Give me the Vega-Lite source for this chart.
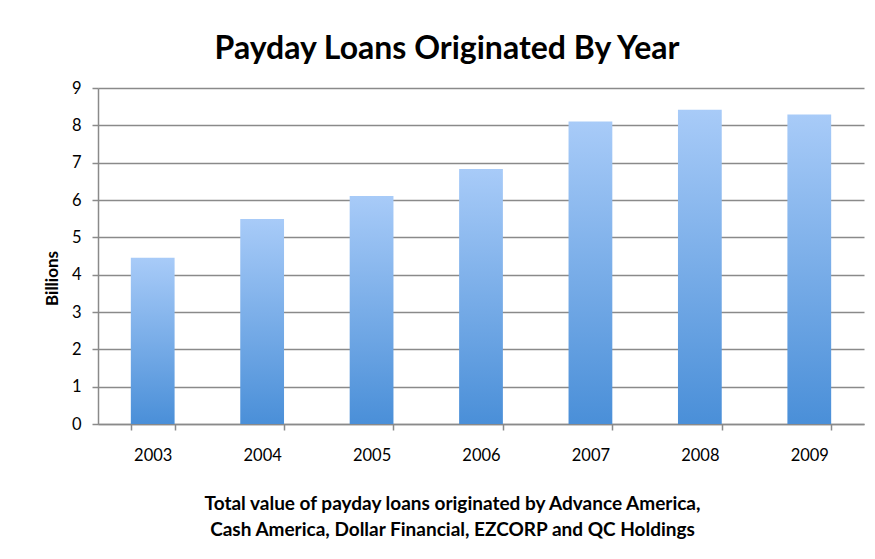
{
  "$schema": "https://vega.github.io/schema/vega-lite/v6.json",
  "autosize": {"type": "none"},
  "width": 766,
  "height": 336,
  "padding": {"left": 98, "top": 88, "right": 11, "bottom": 135},
  "background": "white",
  "title": {
    "text": "Payday Loans Originated By Year",
    "font": "Lato",
    "fontSize": 32,
    "fontWeight": "bold",
    "color": "#000000",
    "anchor": "middle",
    "dx": -34,
    "offset": 14
  },
  "data": {
    "values": [
      {"year": "2003", "value": 4.45},
      {"year": "2004", "value": 5.49},
      {"year": "2005", "value": 6.11},
      {"year": "2006", "value": 6.83},
      {"year": "2007", "value": 8.1},
      {"year": "2008", "value": 8.42},
      {"year": "2009", "value": 8.29}
    ]
  },
  "mark": {
    "type": "bar",
    "fill": {
      "gradient": "linear",
      "x1": 0, "y1": 0, "x2": 0, "y2": 1,
      "stops": [
        {"offset": 0, "color": "#a8cbf8"},
        {"offset": 1, "color": "#4a8fd8"}
      ]
    }
  },
  "encoding": {
    "x": {
      "field": "year",
      "type": "ordinal",
      "scale": {"paddingInner": 0.6, "paddingOuter": 0.3},
      "axis": {
        "labelAngle": 0,
        "tickBand": "extent",
        "domainColor": "#8a8a8a",
        "domainWidth": 1.5,
        "tickColor": "#8a8a8a",
        "tickWidth": 1.5,
        "tickSize": 6,
        "labelPadding": 17,
        "labelFont": "Lato",
        "labelFontSize": 16.5,
        "labelColor": "#000000",
        "title": ["Total value of payday loans originated by Advance America,", "Cash America, Dollar Financial, EZCORP and QC Holdings"],
        "titleFont": "Lato",
        "titleFontSize": 19,
        "titleFontWeight": "bold",
        "titleColor": "#000000",
        "titleX": 354,
        "titleY": 70,
        "titleAlign": "center",
        "titleBaseline": "top",
        "titleLineHeight": 26
      }
    },
    "y": {
      "field": "value",
      "type": "quantitative",
      "scale": {"domain": [0, 9], "nice": false},
      "axis": {
        "values": [0, 1, 2, 3, 4, 5, 6, 7, 8, 9],
        "grid": true,
        "gridColor": "#8a8a8a",
        "gridWidth": 1.5,
        "domainColor": "#8a8a8a",
        "domainWidth": 1.5,
        "tickColor": "#8a8a8a",
        "tickWidth": 1.5,
        "tickSize": 6,
        "labelPadding": 11,
        "labelFont": "Lato",
        "labelFontSize": 16.5,
        "labelColor": "#000000",
        "title": "Billions",
        "titleFont": "Lato",
        "titleFontSize": 17,
        "titleFontWeight": "bold",
        "titleColor": "#000000",
        "titleX": -46,
        "titleY": 190,
        "titleAlign": "center",
        "titleBaseline": "middle",
        "titleAngle": -90
      }
    }
  },
  "config": {"view": {"stroke": null}}
}
